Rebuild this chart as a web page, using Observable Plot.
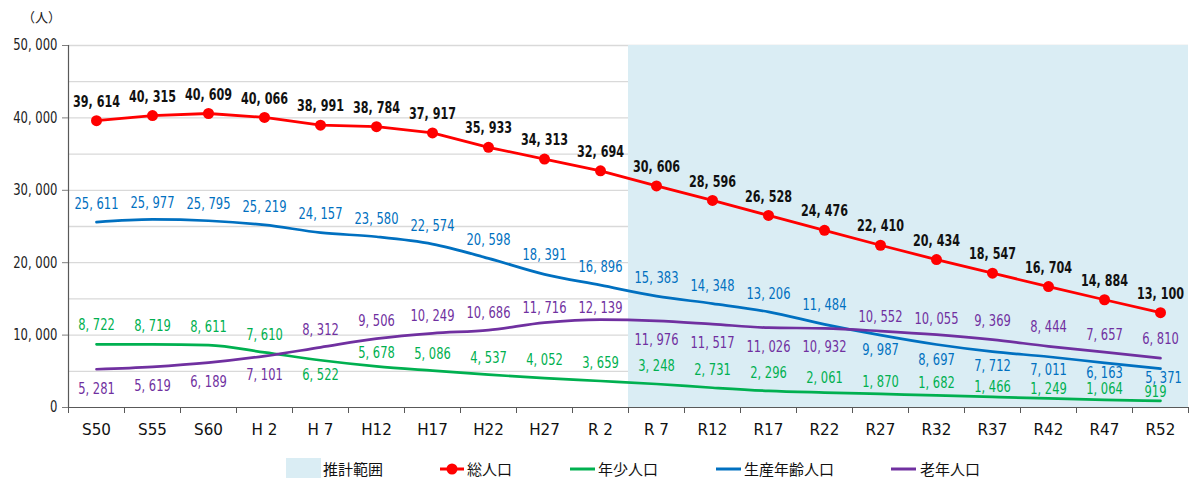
<!DOCTYPE html>
<html><head><meta charset="utf-8">
<script src="https://cdn.jsdelivr.net/npm/d3@7"></script>
<script src="https://cdn.jsdelivr.net/npm/@observablehq/plot@0.6"></script>
<style>
body{margin:0;background:#fff;}
#wrap{position:relative;width:1191px;height:478px;}
#unit{position:absolute;left:22px;top:7px;font-family:"Noto Sans CJK JP",sans-serif;font-size:13px;color:#222;z-index:2;}
#chart{position:absolute;left:0;top:0;}
.lg{position:absolute;top:458px;height:22px;font-family:"Noto Sans CJK JP",sans-serif;font-size:15px;line-height:22px;color:#111;white-space:nowrap;}
.sw{position:absolute;}
</style></head><body>
<div id="wrap">
<div id="chart"></div>
<div id="unit">（人）</div>
<div id="legend"></div>
</div>
<script>
const periods = ["S50","S55","S60","H 2","H 7","H12","H17","H22","H27","R 2","R 7","R12","R17","R22","R27","R32","R37","R42","R47","R52"];
const total   = [39614,40315,40609,40066,38991,38784,37917,35933,34313,32694,30606,28596,26528,24476,22410,20434,18547,16704,14884,13100];
const young   = [8722,8719,8611,7610,6522,5678,5086,4537,4052,3659,3248,2731,2296,2061,1870,1682,1466,1249,1064,919];
const working = [25611,25977,25795,25219,24157,23580,22574,20598,18391,16896,15383,14348,13206,11484,9987,8697,7712,7011,6163,5371];
const elderly = [5281,5619,6189,7101,8312,9506,10249,10686,11716,12139,11976,11517,11026,10932,10552,10055,9369,8444,7657,6810];
const yTicks = [0,10000,20000,30000,40000,50000];
const gridTicks = [5000,10000,15000,20000,25000,30000,35000,40000,45000,50000];
const forecastFrom = "R 7";

// label placement: vertical offset (px) of each value label from its point (negative = above)
const labelDy = {
  total:   Array(20).fill(-19),
  young:   [-19,-19,-18,-18,15,-14,-17,-17,-18,-18,-18,-18,-18,-15,-12,-12,-10,-10,-11,-9],
  working: [-18,-17,-17,-18,-19,-18,-18,-18,-19,-18,-18,-18,-18,-19,15,15,14,13,10,9],
  elderly: [20,19,19,19,-17,-18,-17,-17,-15,-12,19,19,19,19,-14,-16,-19,-19,-17,-19]
};
const labelDx = {young: {19:-5}, working: {19:3}};

const fmt = v => d3.format(",")(v).replace(",", ", ");
const colors = {total:"#ff0000", young:"#00b050", working:"#0070c0", elderly:"#7030a0"};
const series = {total, young, working, elderly};

const fIdx = periods.indexOf(forecastFrom);
const nP = periods.length;
const marks = [
  Plot.gridY(gridTicks, {stroke:"#d9d9d9", strokeOpacity:1, strokeWidth:1.3}),
  Plot.rect([{x1: fIdx-0.5, x2: nP-0.5}], {x1:"x1", x2:"x2", y1: ()=>0, y2: ()=>d3.max(yTicks), fill:"#daedf4"}),
  Plot.ruleX([-0.5], {stroke:"#595959", strokeWidth:1.2}),
  Plot.ruleY([0], {stroke:"#595959", strokeWidth:1.2}),
  Plot.axisY(yTicks, {tickSize:6, stroke:"#7f7f7f", tickPadding:5, fontSize:15.5, fill:"#222", tickFormat: fmt, label:null, className:"sq-axis"}),
  Plot.axisX(d3.range(-0.5, nP, 1), {tickSize:6, stroke:"#595959", tickFormat: ()=>"", label:null}),
  Plot.axisX(d3.range(nP), {tickSize:0, tickPadding:16, fontSize:16, fill:"#111", tickFormat: i=>periods[i], label:null, className:"sq-xlab"}),
];
for (const key of ["young","working","elderly"]) {
  marks.push(Plot.line(series[key], {x:(d,i)=>i, y:d=>d, stroke:colors[key], strokeWidth:2.7, curve:"monotone-x"}));
}
marks.push(Plot.line(total, {x:(d,i)=>i, y:d=>d, stroke:colors.total, strokeWidth:2.8}));
marks.push(Plot.dot(total, {x:(d,i)=>i, y:d=>d, r:5.5, fill:colors.total}));
for (const key of ["young","working","elderly","total"]) {
  series[key].forEach((v,i) => {
    const d = {i, v};
    marks.push(Plot.text([d], {x:"i", y:"v", text: d=>fmt(d.v),
      dy: labelDy[key][i], dx: (labelDx[key] && labelDx[key][i]) || 0,
      fill: key==="total" ? "#111" : colors[key], fontSize: 16,
      fontWeight: key==="total" ? "bold" : "normal", className: key==="total" ? "sq-total" : "sq-lab"}));
  });
}

const chart = Plot.plot({
  width:1191, height:440,
  marginLeft:68, marginRight:3, marginTop:45, marginBottom:33,
  style:{fontFamily:'"DejaVu Sans",sans-serif', background:"#fff"},
  x:{type:"linear", domain:[-0.5, nP-0.5], axis:null},
  y:{domain:[0, d3.max(yTicks)], axis:null},
  marks
});
document.getElementById("chart").appendChild(chart);

// condense glyphs horizontally around each text's anchor (narrow font look)
const squeeze = {"sq-total":0.70, "sq-lab":0.72, "sq-axis":0.75, "sq-xlab":0.95};
for (const [cls, s] of Object.entries(squeeze)) {
  chart.querySelectorAll(`g.${cls} text`).forEach(t => {
    const tr = t.getAttribute("transform") || "";
    t.setAttribute("transform", tr + ` scale(${s},1)`);
  });
}

// legend
const lg = document.getElementById("legend");
const items = [
  {type:"box", x:286, w:35, text:"推計範囲", tx:323, color:"#daedf4"},
  {type:"dotline", x:440, w:24, text:"総人口", tx:467, color:colors.total},
  {type:"line", x:570, w:25, text:"年少人口", tx:598, color:colors.young},
  {type:"line", x:716, w:25, text:"生産年齢人口", tx:744, color:colors.working},
  {type:"line", x:891, w:25, text:"老年人口", tx:920, color:colors.elderly}
];
for (const it of items) {
  const sw = document.createElementNS("http://www.w3.org/2000/svg","svg");
  sw.setAttribute("class","sw");
  sw.setAttribute("width", it.w); sw.setAttribute("height", 22);
  sw.style.left = it.x + "px"; sw.style.top = "458px";
  if (it.type==="box") {
    sw.innerHTML = `<rect x="0" y="0" width="${it.w}" height="20" fill="${it.color}"/>`;
  } else {
    sw.innerHTML = `<line x1="0" x2="${it.w}" y1="11" y2="11" stroke="${it.color}" stroke-width="3"/>` +
      (it.type==="dotline" ? `<circle cx="${it.w/2}" cy="11" r="5.5" fill="${it.color}"/>` : "");
  }
  lg.appendChild(sw);
  const t = document.createElement("div");
  t.className = "lg"; t.style.left = it.tx + "px"; t.textContent = it.text;
  lg.appendChild(t);
}
</script>
</body></html>
